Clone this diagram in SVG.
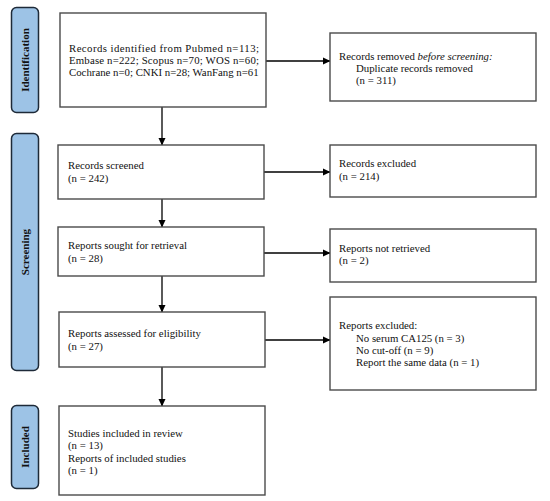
<svg xmlns="http://www.w3.org/2000/svg" width="550" height="501" viewBox="0 0 550 501">
<defs>
<marker id="ah" markerWidth="8" markerHeight="8" refX="7" refY="4" orient="auto" markerUnits="userSpaceOnUse">
<path d="M0,0.5 L7.5,4 L0,7.5 Z" fill="#000"/>
</marker>
<style>
.tab{fill:#9DC3E6;stroke:#1E2A38;stroke-width:1.5}
.tabt{font-family:"Liberation Serif","Times New Roman",serif;font-size:11px;font-weight:bold;fill:#111;text-anchor:middle}
.box{fill:#fff;stroke:#4a4a4a;stroke-width:1.4}
.t{font-family:"Liberation Serif","Times New Roman",serif;font-size:10.8px;fill:#111}
.c{stroke:#000;stroke-width:1.3;fill:none;marker-end:url(#ah)}
</style>
</defs>
<rect width="550" height="501" fill="#fff"/>
<g id="tab-identification">
<rect class="tab" x="11.5" y="7.5" width="27" height="105" rx="5"/>
<text class="tabt" transform="translate(29,60) rotate(-90)">Identification</text>
</g>
<g id="tab-screening">
<rect class="tab" x="11.5" y="133.5" width="27" height="237" rx="5"/>
<text class="tabt" transform="translate(29,252) rotate(-90)">Screening</text>
</g>
<g id="tab-included">
<rect class="tab" x="11.5" y="405.5" width="27" height="83" rx="5"/>
<text class="tabt" transform="translate(29,447) rotate(-90)">Included</text>
</g>
<g id="connectors">
<line class="c" x1="162" y1="107" x2="162" y2="145"/>
<line class="c" x1="162" y1="199" x2="162" y2="227"/>
<line class="c" x1="162" y1="276" x2="162" y2="312"/>
<line class="c" x1="162" y1="367" x2="162" y2="406"/>
<line class="c" x1="266" y1="61" x2="330" y2="61"/>
<line class="c" x1="264" y1="172" x2="330" y2="172"/>
<line class="c" x1="264" y1="253" x2="330" y2="253"/>
<line class="c" x1="265" y1="340" x2="330" y2="340"/>
</g>
<g id="identified">
<rect class="box" x="60" y="13" width="206" height="94"/>
<text class="t" x="69" y="52" textLength="190" lengthAdjust="spacing">Records identified from Pubmed n=113;</text>
<text class="t" x="69" y="64" textLength="190" lengthAdjust="spacing">Embase n=222; Scopus n=70; WOS n=60;</text>
<text class="t" x="69" y="76">Cochrane n=0; CNKI n=28; WanFang n=61</text>
</g>
<g id="removed">
<rect class="box" x="330" y="33" width="206" height="68"/>
<text class="t" x="339" y="60">Records removed <tspan font-style="italic">before screening:</tspan></text>
<text class="t" x="356" y="72">Duplicate records removed</text>
<text class="t" x="356" y="84">(n = 311)</text>
</g>
<g id="screened">
<rect class="box" x="58" y="145" width="206" height="54"/>
<text class="t" x="68" y="169">Records screened</text>
<text class="t" x="68" y="182">(n = 242)</text>
</g>
<g id="excluded">
<rect class="box" x="330" y="145" width="206" height="52"/>
<text class="t" x="339" y="167">Records excluded</text>
<text class="t" x="339" y="180">(n = 214)</text>
</g>
<g id="sought">
<rect class="box" x="58" y="227" width="206" height="49"/>
<text class="t" x="68" y="249">Reports sought for retrieval</text>
<text class="t" x="68" y="262">(n = 28)</text>
</g>
<g id="not-retrieved">
<rect class="box" x="330" y="229" width="206" height="53"/>
<text class="t" x="339" y="252">Reports not retrieved</text>
<text class="t" x="339" y="264">(n = 2)</text>
</g>
<g id="assessed">
<rect class="box" x="59" y="312" width="206" height="55"/>
<text class="t" x="68" y="337">Reports assessed for eligibility</text>
<text class="t" x="68" y="350">(n = 27)</text>
</g>
<g id="reports-excluded">
<rect class="box" x="330" y="297" width="206" height="93"/>
<text class="t" x="339" y="329">Reports excluded:</text>
<text class="t" x="356" y="342">No serum CA125 (n = 3)</text>
<text class="t" x="356" y="354">No cut-off (n = 9)</text>
<text class="t" x="356" y="366">Report the same data (n = 1)</text>
</g>
<g id="included">
<rect class="box" x="59" y="406" width="206" height="89"/>
<text class="t" x="68" y="437">Studies included in review</text>
<text class="t" x="68" y="449">(n = 13)</text>
<text class="t" x="68" y="462">Reports of included studies</text>
<text class="t" x="68" y="474">(n = 1)</text>
</g>
</svg>
